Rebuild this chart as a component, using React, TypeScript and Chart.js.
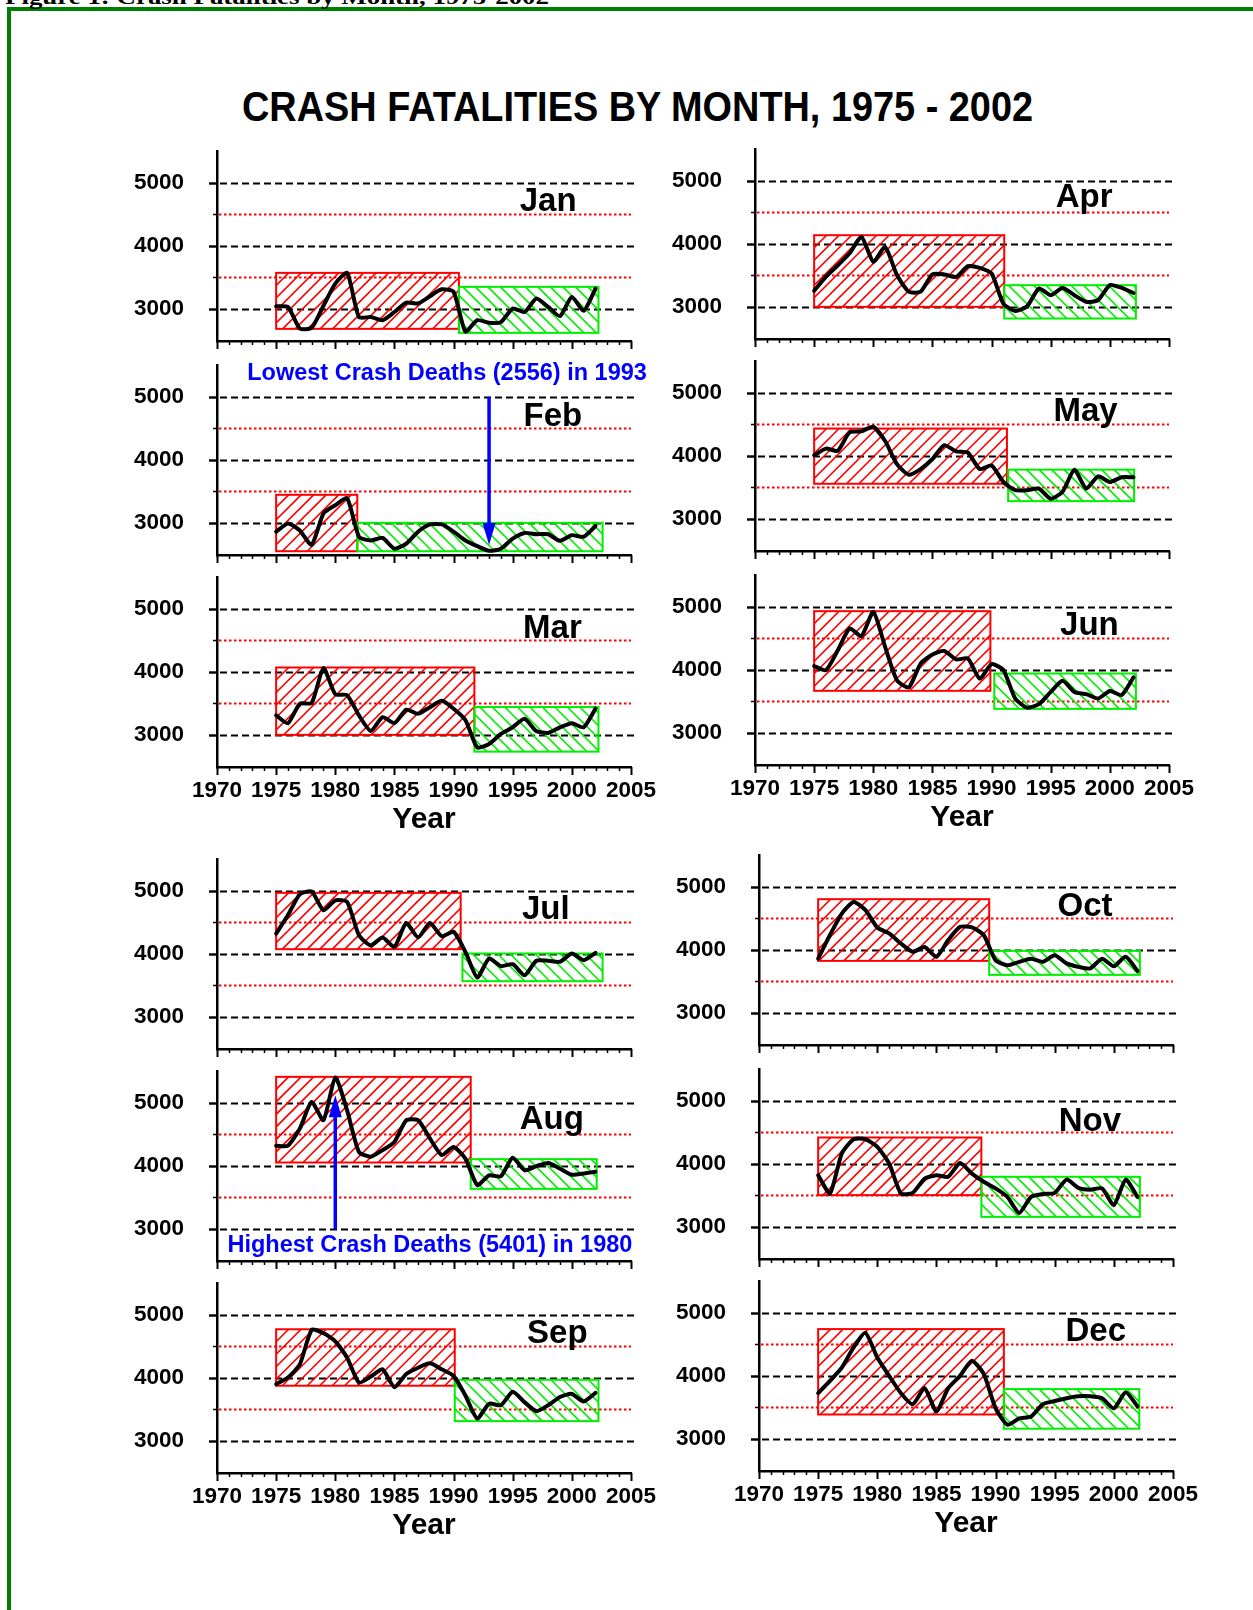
import React, { useEffect, useRef } from 'react';
import { Chart, registerables } from 'chart.js';

Chart.register(...registerables);

const FONT = "'Liberation Sans', Arial, Helvetica, sans-serif";

// ---------------- DATA ----------------
const years = [1975, 1976, 1977, 1978, 1979, 1980, 1981, 1982, 1983, 1984, 1985, 1986, 1987, 1988,
  1989, 1990, 1991, 1992, 1993, 1994, 1995, 1996, 1997, 1998, 1999, 2000, 2001, 2002];

const jan = [3040, 3030, 2690, 2700, 3050, 3400, 3570, 2870, 2870, 2820, 2950, 3100, 3085, 3200,
  3310, 3270, 2640, 2820, 2780, 2790, 3005, 2950, 3165, 3030, 2885, 3190, 2970, 3320];
const feb = [2860, 2990, 2880, 2650, 3150, 3280, 3390, 2780, 2720, 2760, 2590, 2670, 2860, 2975,
  2975, 2860, 2720, 2630, 2556, 2590, 2750, 2840, 2820, 2820, 2715, 2805, 2780, 2950];
const mar = [3310, 3185, 3495, 3505, 4060, 3645, 3630, 3310, 3060, 3280, 3185, 3400, 3335, 3440,
  3540, 3415, 3235, 2800, 2855, 3015, 3120, 3255, 3060, 3030, 3120, 3185, 3120, 3415];
const apr = [3255, 3480, 3660, 3850, 4110, 3715, 3950, 3505, 3240, 3240, 3515, 3515, 3475, 3645,
  3620, 3530, 3050, 2935, 3010, 3290, 3185, 3300, 3185, 3080, 3105, 3345, 3300, 3220];
const may = [4010, 4115, 4080, 4375, 4390, 4460, 4235, 3870, 3700, 3790, 3950, 4170, 4070, 4050,
  3790, 3845, 3585, 3455, 3455, 3480, 3320, 3430, 3780, 3480, 3675, 3585, 3660, 3660];
const jun = [4060, 3995, 4310, 4655, 4535, 4920, 4365, 3835, 3720, 4100, 4245, 4300, 4165, 4180,
  3860, 4090, 3995, 3545, 3400, 3455, 3650, 3825, 3650, 3615, 3545, 3665, 3600, 3880];
const jul = [4320, 4615, 4945, 4990, 4690, 4850, 4825, 4295, 4135, 4260, 4110, 4490, 4260, 4490,
  4280, 4350, 4030, 3625, 3925, 3805, 3835, 3660, 3890, 3890, 3875, 4005, 3900, 4015];
const aug = [4320, 4320, 4590, 5015, 4725, 5401, 4880, 4220, 4145, 4250, 4380, 4725, 4725, 4435,
  4170, 4300, 4115, 3695, 3850, 3835, 4130, 3930, 3995, 4045, 3955, 3860, 3880, 3905];
const sep = [3900, 4005, 4215, 4760, 4710, 4580, 4320, 3925, 4020, 4135, 3850, 4060, 4160, 4230,
  4135, 4030, 3720, 3355, 3590, 3565, 3780, 3615, 3470, 3565, 3695, 3745, 3625, 3760];
const oct = [3860, 4235, 4575, 4760, 4630, 4355, 4260, 4100, 3970, 4045, 3890, 4155, 4365, 4355,
  4235, 3835, 3755, 3810, 3860, 3810, 3915, 3785, 3730, 3705, 3860, 3740, 3890, 3665];
const nov = [3820, 3530, 4165, 4390, 4390, 4270, 4005, 3530, 3540, 3765, 3820, 3795, 4015, 3845,
  3715, 3610, 3475, 3220, 3475, 3520, 3540, 3750, 3620, 3590, 3610, 3345, 3750, 3475];
const dec = [3725, 3920, 4130, 4450, 4680, 4290, 4000, 3725, 3550, 3805, 3435, 3805, 4000, 4240,
  4030, 3485, 3225, 3325, 3355, 3550, 3600, 3645, 3675, 3675, 3645, 3485, 3740, 3515];

const monthNames = ['Jan', 'Feb', 'Mar', 'Apr', 'May', 'Jun', 'Jul', 'Aug', 'Sep', 'Oct', 'Nov', 'Dec'];
const monthSeries = [jan, feb, mar, apr, may, jun, jul, aug, sep, oct, nov, dec];

const yTickValues = [3000, 4000, 5000];
const yMinorValues = [3500, 4500];
const xTickValues = [1970, 1975, 1980, 1985, 1990, 1995, 2000, 2005];

// [fromYear, toYear, low, high]
const redBoxes = [
  [1975, 1990.45, 2683, 3571], [1975, 1981.86, 2550, 3445], [1975, 1991.76, 3000, 4069],
  [1975, 1991.07, 3000, 4137], [1975, 1991.3, 3557, 4433], [1975, 1989.9, 3667, 4931],
  [1975, 1990.6, 4074, 4968], [1975, 1991.45, 4053, 5412], [1975, 1990.1, 3875, 4771],
  [1975, 1989.46, 3825, 4804], [1975, 1988.8, 3503, 4418], [1975, 1990.7, 3387, 4742],
];
const greenBoxes = [
  [1990.45, 2002.25, 2619, 3349], [1981.86, 2002.6, 2550, 3000], [1991.76, 2002.25, 2734, 3442],
  [1991.07, 2002.2, 2815, 3344], [1991.4, 2002.05, 3281, 3781], [1990.23, 2002.2, 3381, 3942],
  [1990.75, 2002.6, 3566, 4005], [1991.45, 2002.1, 3635, 4106], [1990.1, 2002.25, 3313, 3969],
  [1989.46, 2002.2, 3603, 3984], [1988.8, 2002.2, 3159, 3794], [1990.7, 2002.15, 3161, 3790],
];

const lowestNote = 'Lowest Crash Deaths (2556) in 1993';
const lowestArrow = [1993, 5000, 2650]; // year, from value, tip value
const highestNote = 'Highest Crash Deaths (5401) in 1980';
const highestArrow = [1980, 2990, 5120];

// ---------------- LAYOUT ----------------
const PAD_T = 30;
const PAD_R = 45;
const Y_AXIS_W = 100;
const PLOT_W = 414;
const PLOT_H = 190;
const Y_MIN = 2490;
const Y_MAX = 5505;

type PanelSpec = { m: number; ax: number; top: number; bottom: boolean; label: number[]; note?: string };

const PANELS: PanelSpec[] = [
  { m: 0, ax: 217, top: 151, bottom: false, label: [1998.0, 4741] },
  { m: 1, ax: 217, top: 365, bottom: false, label: [1998.4, 4727], note: 'low' },
  { m: 2, ax: 217, top: 577, bottom: true, label: [1998.36, 4727] },
  { m: 3, ax: 755, top: 149, bottom: false, label: [1997.83, 4773] },
  { m: 4, ax: 755, top: 361, bottom: false, label: [1997.94, 4744] },
  { m: 5, ax: 755, top: 575, bottom: true, label: [1998.27, 4736] },
  { m: 6, ax: 217, top: 859, bottom: false, label: [1997.8, 4746] },
  { m: 7, ax: 217, top: 1071, bottom: false, label: [1998.3, 4765], note: 'high' },
  { m: 8, ax: 217, top: 1283, bottom: true, label: [1998.77, 4736] },
  { m: 9, ax: 759, top: 855, bottom: false, label: [1997.56, 4722] },
  { m: 10, ax: 759, top: 1069, bottom: false, label: [1997.98, 4714] },
  { m: 11, ax: 759, top: 1281, bottom: true, label: [1998.47, 4738] },
];

function hatchBox(ctx: CanvasRenderingContext2D, x: any, y: any, box: number[], color: string, dir: number) {
  const x0 = x.getPixelForValue(box[0]);
  const x1 = x.getPixelForValue(box[1]);
  const y0 = y.getPixelForValue(box[3]);
  const y1 = y.getPixelForValue(box[2]);
  const h = y1 - y0;
  ctx.save();
  ctx.beginPath();
  ctx.rect(x0, y0, x1 - x0, h);
  ctx.clip();
  ctx.strokeStyle = color;
  ctx.lineWidth = 1.6;
  ctx.setLineDash([]);
  ctx.beginPath();
  const spacing = 12.5;
  for (let s = x0 - h - spacing; s < x1 + h + spacing; s += spacing) {
    if (dir > 0) {
      ctx.moveTo(s, y1);
      ctx.lineTo(s + h, y0);
    } else {
      ctx.moveTo(s, y0);
      ctx.lineTo(s + h, y1);
    }
  }
  ctx.stroke();
  ctx.restore();
  ctx.save();
  ctx.strokeStyle = color;
  ctx.lineWidth = 2;
  ctx.setLineDash([]);
  ctx.strokeRect(x0, y0, x1 - x0, h);
  ctx.restore();
}

function drawArrow(ctx: CanvasRenderingContext2D, px: number, yFrom: number, yTip: number) {
  const dir = Math.sign(yTip - yFrom);
  const headLen = 22;
  const headW = 6.5;
  ctx.save();
  ctx.strokeStyle = '#0000ff';
  ctx.fillStyle = '#0000ff';
  ctx.lineWidth = 3.5;
  ctx.setLineDash([]);
  ctx.beginPath();
  ctx.moveTo(px, yFrom);
  ctx.lineTo(px, yTip - dir * (headLen - 2));
  ctx.stroke();
  ctx.beginPath();
  ctx.moveTo(px - headW, yTip - dir * headLen);
  ctx.lineTo(px + headW, yTip - dir * headLen);
  ctx.lineTo(px, yTip);
  ctx.closePath();
  ctx.fill();
  ctx.restore();
}

function makeDeco(spec: PanelSpec) {
  return {
    id: 'deco' + spec.m,
    beforeDatasetsDraw(chart: any) {
      const { ctx, chartArea: a, scales } = chart;
      const x = scales.x;
      const y = scales.y;
      ctx.save();
      ctx.lineWidth = 1.8;
      ctx.strokeStyle = '#ff0000';
      ctx.setLineDash([2.5, 2.5]);
      for (const v of yMinorValues) {
        const py = Math.round(y.getPixelForValue(v)) + 0.5;
        ctx.beginPath();
        ctx.moveTo(a.left + 2, py);
        ctx.lineTo(a.right, py);
        ctx.stroke();
      }
      ctx.strokeStyle = '#000000';
      ctx.lineWidth = 1.9;
      ctx.setLineDash([7, 4]);
      for (const v of yTickValues) {
        const py = Math.round(y.getPixelForValue(v)) + 0.5;
        ctx.beginPath();
        ctx.moveTo(a.left - 8, py);
        ctx.lineTo(a.right + 3, py);
        ctx.stroke();
      }
      ctx.restore();
      hatchBox(ctx, x, y, redBoxes[spec.m], '#ff0000', 1);
      hatchBox(ctx, x, y, greenBoxes[spec.m], '#00ee00', -1);
    },
    afterDraw(chart: any) {
      const { ctx, chartArea: a, scales } = chart;
      const x = scales.x;
      const y = scales.y;
      ctx.save();
      ctx.strokeStyle = '#000';
      ctx.setLineDash([]);
      for (let yr = x.min; yr <= x.max; yr++) {
        const px = Math.round(x.getPixelForValue(yr)) + 0.5;
        const major = yr % 5 === 0;
        ctx.lineWidth = major ? 2 : 1.5;
        ctx.beginPath();
        ctx.moveTo(px, a.bottom);
        ctx.lineTo(px, a.bottom + (major ? 8 : 4));
        ctx.stroke();
      }
      ctx.lineWidth = 1.9;
      for (const v of yTickValues) {
        const py = Math.round(y.getPixelForValue(v)) + 0.5;
        ctx.beginPath();
        ctx.moveTo(a.left - 8, py);
        ctx.lineTo(a.left, py);
        ctx.stroke();
      }
      ctx.lineWidth = 1.5;
      for (const v of yMinorValues) {
        const py = Math.round(y.getPixelForValue(v)) + 0.5;
        ctx.beginPath();
        ctx.moveTo(a.left - 4, py);
        ctx.lineTo(a.left, py);
        ctx.stroke();
      }
      ctx.fillStyle = '#000';
      ctx.font = `bold 33px ${FONT}`;
      ctx.textAlign = 'center';
      ctx.textBaseline = 'alphabetic';
      ctx.fillText(monthNames[spec.m], x.getPixelForValue(spec.label[0]), y.getPixelForValue(spec.label[1]) + 11.8);
      if (spec.note === 'low') {
        drawArrow(ctx, x.getPixelForValue(lowestArrow[0]), y.getPixelForValue(lowestArrow[1]), y.getPixelForValue(lowestArrow[2]));
        ctx.fillStyle = '#0000ff';
        ctx.font = `bold 23.5px ${FONT}`;
        ctx.textAlign = 'center';
        ctx.fillText(lowestNote, x.getPixelForValue(1989.45), y.getPixelForValue(5268));
      }
      if (spec.note === 'high') {
        drawArrow(ctx, x.getPixelForValue(highestArrow[0]), y.getPixelForValue(highestArrow[1]), y.getPixelForValue(highestArrow[2]));
        ctx.fillStyle = '#0000ff';
        ctx.font = `bold 23.5px ${FONT}`;
        ctx.textAlign = 'center';
        ctx.fillText(highestNote, x.getPixelForValue(1988.0), y.getPixelForValue(2627));
      }
      ctx.restore();
    },
  };
}

function buildConfig(spec: PanelSpec): any {
  const values = monthSeries[spec.m];
  const hiddenGrid = { display: true, drawOnChartArea: false, drawTicks: false, color: 'rgba(0,0,0,0)' };
  return {
    type: 'line',
    data: {
      datasets: [
        {
          data: years.map((yr, i) => ({ x: yr, y: values[i] })),
          borderColor: '#000000',
          borderWidth: 4,
          pointRadius: 0,
          pointHoverRadius: 0,
          tension: 0.2,
          fill: false,
          borderJoinStyle: 'round',
          borderCapStyle: 'round',
        },
      ],
    },
    options: {
      responsive: false,
      animation: false,
      devicePixelRatio: 1,
      events: [],
      layout: { padding: { left: 0, top: PAD_T, right: PAD_R, bottom: 0 } },
      plugins: { legend: { display: false }, tooltip: { enabled: false }, title: { display: false } },
      scales: {
        x: {
          type: 'linear',
          min: 1970,
          max: 2005,
          afterBuildTicks: (s: any) => {
            s.ticks = xTickValues.map((v) => ({ value: v }));
          },
          afterFit: (s: any) => {
            s.height = spec.bottom ? 80 : 20;
          },
          grid: hiddenGrid,
          border: { display: true, color: '#000000', width: 2.5 },
          ticks: {
            display: spec.bottom,
            autoSkip: false,
            maxRotation: 0,
            minRotation: 0,
            padding: 10.5,
            color: '#000000',
            font: { family: FONT, weight: 'bold', size: 22.5 },
            callback: (v: any) => String(v),
          },
          title: {
            display: spec.bottom,
            text: 'Year',
            color: '#000000',
            font: { family: FONT, weight: 'bold', size: 30 },
            padding: { top: 0, bottom: 9.5 },
          },
        },
        y: {
          type: 'linear',
          min: Y_MIN,
          max: Y_MAX,
          afterBuildTicks: (s: any) => {
            s.ticks = yTickValues.map((v) => ({ value: v }));
          },
          afterFit: (s: any) => {
            s.width = Y_AXIS_W;
          },
          grid: {
            display: true,
            drawOnChartArea: false,
            drawTicks: true,
            tickLength: 33,
            tickColor: 'rgba(0,0,0,0)',
            color: 'rgba(0,0,0,0)',
          },
          border: { display: true, color: '#000000', width: 2.5 },
          ticks: {
            padding: 0,
            color: '#000000',
            font: { family: FONT, weight: 'bold', size: 22.5 },
            callback: (v: any) => String(v),
          },
        },
      },
    },
    plugins: [makeDeco(spec)],
  };
}

function Panel({ spec }: { spec: PanelSpec }) {
  const ref = useRef<HTMLCanvasElement | null>(null);
  const W = Y_AXIS_W + PLOT_W + PAD_R;
  const H = PAD_T + PLOT_H + (spec.bottom ? 80 : 20);
  useEffect(() => {
    if (!ref.current) return;
    const chart = new Chart(ref.current, buildConfig(spec));
    return () => chart.destroy();
  }, [spec]);
  return (
    <canvas
      ref={ref}
      width={W}
      height={H}
      style={{ position: 'absolute', left: spec.ax - Y_AXIS_W, top: spec.top - PAD_T, width: W, height: H }}
    />
  );
}

export default function App() {
  return (
    <div
      style={{
        position: 'absolute',
        left: 0,
        top: 0,
        width: 1253,
        height: 1610,
        overflow: 'hidden',
        background: '#ffffff',
      }}
    >
      <div
        style={{
          position: 'absolute',
          left: 7,
          top: 7,
          width: 1300,
          height: 1700,
          border: '4px solid #008000',
        }}
      />
      <svg width={1253} height={140} style={{ position: 'absolute', left: 0, top: 0 }}>
        <text
          x={5}
          y={4}
          fontFamily="'Liberation Serif', 'Times New Roman', serif"
          fontWeight="bold"
          fontSize={22}
          textLength={544}
          lengthAdjust="spacingAndGlyphs"
          fill="#000"
        >
          Figure 1: Crash Fatalities by Month, 1975-2002
        </text>
        <text
          x={242}
          y={121}
          fontFamily={FONT}
          fontWeight="bold"
          fontSize={43}
          textLength={791}
          lengthAdjust="spacingAndGlyphs"
          fill="#000"
        >
          CRASH FATALITIES BY MONTH, 1975 - 2002
        </text>
      </svg>
      {PANELS.map((p) => (
        <Panel key={p.m} spec={p} />
      ))}
    </div>
  );
}
